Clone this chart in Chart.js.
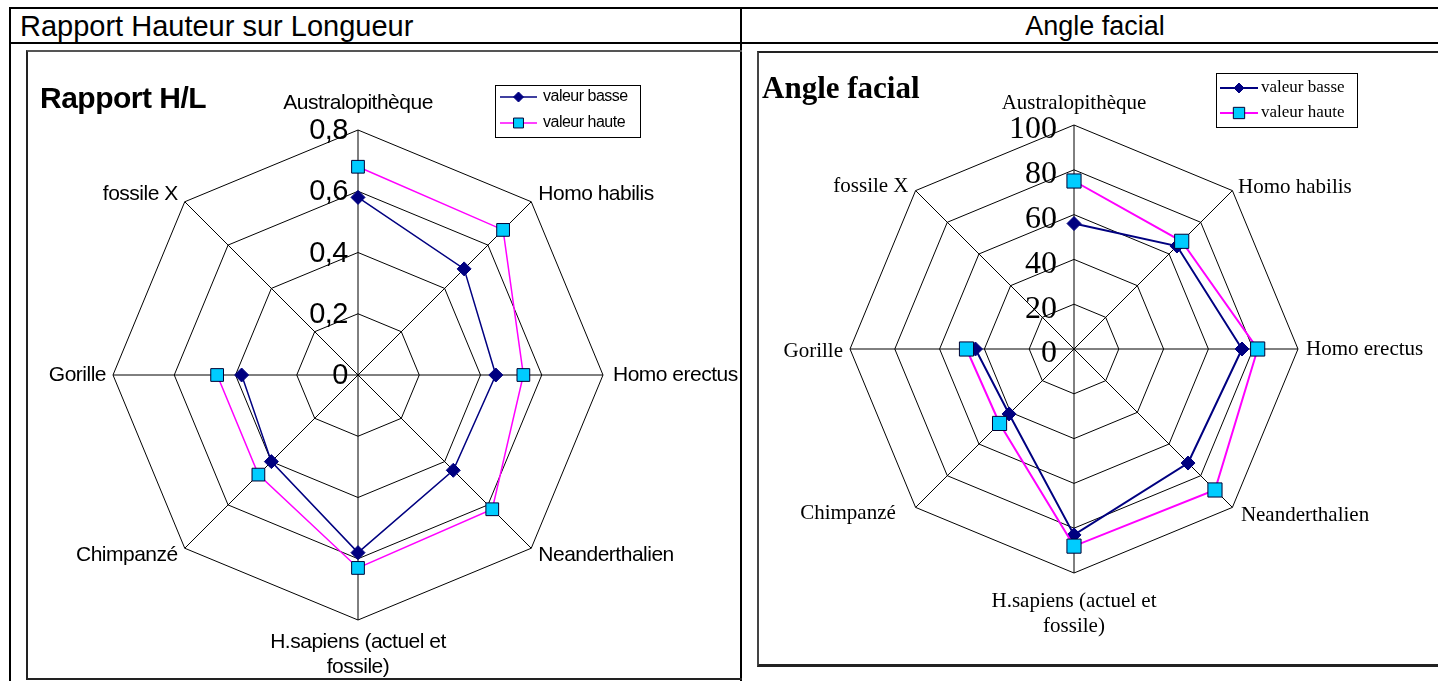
<!DOCTYPE html>
<html>
<head>
<meta charset="utf-8">
<script src="https://cdn.jsdelivr.net/npm/chart.js@4.4.1/dist/chart.umd.min.js"></script>
<style>
  body { margin: 0; width: 1438px; height: 681px; overflow: hidden; background: #fff; position: relative; }
  .rule { position: absolute; background: #000; }
  .head { position: absolute; top: 9px; height: 34px; line-height: 34px; font-family: 'Liberation Sans', Arial, sans-serif; font-size: 27px; color: #000; white-space: nowrap; }
  .frame { position: absolute; box-sizing: border-box; }
  canvas { position: absolute; display: block; }
</style>
</head>
<body>
<!-- table lines -->
<div class="rule" style="left:9px;top:7px;width:1429px;height:2px"></div>
<div class="rule" style="left:9px;top:7px;width:2px;height:674px"></div>
<div class="rule" style="left:9px;top:42px;width:1429px;height:2px"></div>
<div class="rule" style="left:740px;top:7px;width:2px;height:674px"></div>
<div class="head" style="left:20px;font-size:29px">Rapport Hauteur sur Longueur</div>
<div class="head" style="left:742px;width:706px;text-align:center">Angle facial</div>

<!-- chart frames -->
<div class="frame" style="left:26px;top:50px;width:716px;height:630px;border-left:2px solid #222;border-top:2px solid #555;border-bottom:2px solid #222"></div>
<div class="frame" style="left:757px;top:51px;width:700px;height:616px;border-left:2px solid #444;border-top:2px solid #222;border-bottom:3px solid #222"></div>

<canvas id="hlChart" width="711" height="625" style="left:28px;top:52px"></canvas>
<canvas id="angleChart" width="679" height="609" style="left:759px;top:54px"></canvas>

<script>
// Categories (same for both radars)
const species = ['Australopithèque', 'Homo habilis', 'Homo erectus', 'Neanderthalien',
    ['H.sapiens (actuel et', 'fossile)'], 'Chimpanzé', 'Gorille', 'fossile X'];

// Rapport H/L
const hlBasse = [0.58, 0.49, 0.45, 0.44, 0.58, 0.40, 0.38, null];
const hlHaute = [0.68, 0.67, 0.54, 0.62, 0.63, 0.46, 0.46, null];
const hlTicks = ['0', '0,2', '0,4', '0,6', '0,8'];

// Angle facial
const angleBasse = [56, 65, 75, 72, 83, 41, 44, null];
const angleHaute = [75, 68, 82, 89, 88, 47, 48, null];
const angleTicks = ['0', '20', '40', '60', '80', '100'];

const NAVY = '#000080';
const PINK = '#ff00ff';
const CYAN = '#00ccff';

// Styling for each chart (fonts, padding, legend box...)
const hlLook = {
    padding: { left: 85, right: 136, top: 78, bottom: 57 },
    title: 'Rapport H/L', titleFont: "bold 30px 'Liberation Sans', Arial, sans-serif", titleX: 12, titleY: 48,
    tickFont: "29px 'Liberation Sans', Arial, sans-serif", tickGap: 10, tickShift: 1,
    labelFont: "21px 'Liberation Sans', Arial, sans-serif", labelLine: 25,
    labelGap: [27, 10, 10, 10, 22, 10, 7, 10],
    labelNudge: [0, 0, 0, 0, 0, 0, 0, 0],
    legendBox: [467, 33, 145, 52], legendRows: [45, 71], legendLine: [472, 509], legendText: 515,
    legendFont: "16px 'Liberation Sans', Arial, sans-serif",
    spacing: '-0.5px',
    lineWidth: 1.5, diamond: 7, square: 9
};
const angleLook = {
    padding: { left: 91, right: 140, top: 71, bottom: 90 },
    title: 'Angle facial', titleFont: "bold 31px 'Liberation Serif', 'Times New Roman', serif", titleX: 3, titleY: 36,
    tickFont: "32px 'Liberation Serif', 'Times New Roman', serif", tickGap: 17, tickShift: 5,
    labelFont: "21px 'Liberation Serif', 'Times New Roman', serif", labelLine: 25,
    labelGap: [22, 8, 8, 12, 28, 28, 7, 10],
    labelNudge: [0, 3, 0, 0, 0, -14, 2, 3],
    legendBox: [457, 19, 141, 54], legendRows: [34, 59], legendLine: [461, 499], legendText: 502,
    legendFont: "17px 'Liberation Serif', 'Times New Roman', serif",
    spacing: '0px',
    lineWidth: 2, diamond: 7, square: 10
};

// Draws the Excel-like title, tick labels, category labels and legend
function decorPlugin(look) {
    return {
        id: 'decor',
        afterDraw(chart) {
            const ctx = chart.ctx;
            const s = chart.scales.r;
            ctx.save();
            ctx.fillStyle = '#000';
            ctx.letterSpacing = look.spacing;

            // tick labels on the top axis
            ctx.font = look.tickFont;
            ctx.textAlign = 'right';
            ctx.textBaseline = 'middle';
            s.ticks.forEach(function(t) {
                const d = s.getDistanceFromCenterForValue(t.value);
                ctx.fillText(t.label, s.xCenter - look.tickGap, s.yCenter - d + look.tickShift);
            });

            // category labels
            ctx.font = look.labelFont;
            chart.data.labels.forEach(function(label, i) {
                const p = s.getPointPosition(i, s.drawingArea + look.labelGap[i]);
                const deg = Math.round(s.getIndexAngle(i) * 180 / Math.PI) % 360;
                const lines = Array.isArray(label) ? label : [label];
                ctx.textAlign = (deg === 0 || deg === 180) ? 'center' : (deg < 180 ? 'left' : 'right');
                ctx.textBaseline = 'middle';
                lines.forEach(function(line, k) {
                    ctx.fillText(line, p.x, p.y + look.labelNudge[i] + k * look.labelLine);
                });
            });

            // title
            ctx.font = look.titleFont;
            ctx.textAlign = 'left';
            ctx.fillText(look.title, look.titleX, look.titleY);

            // legend
            const b = look.legendBox;
            ctx.lineWidth = 1;
            ctx.strokeStyle = '#000';
            ctx.strokeRect(b[0] + 0.5, b[1] + 0.5, b[2], b[3]);
            ctx.font = look.legendFont;
            chart.data.datasets.forEach(function(ds, i) {
                const y = look.legendRows[i];
                ctx.strokeStyle = ds.borderColor;
                ctx.lineWidth = look.lineWidth;
                ctx.beginPath();
                ctx.moveTo(look.legendLine[0], y);
                ctx.lineTo(look.legendLine[1], y);
                ctx.stroke();
                ctx.fillStyle = ds.pointBackgroundColor;
                ctx.strokeStyle = ds.pointBorderColor;
                ctx.lineWidth = 1;
                Chart.helpers.drawPoint(ctx, {
                    pointStyle: ds.pointStyle,
                    radius: ds.pointRadius - 2,
                    rotation: 0,
                    borderWidth: 1
                }, (look.legendLine[0] + look.legendLine[1]) / 2, y);
                ctx.fillStyle = '#000';
                ctx.textAlign = 'left';
                ctx.fillText(ds.label, look.legendText, y);
            });
            ctx.restore();
        }
    };
}

function makeRadar(id, basse, haute, max, step, tickLabels, look) {
    return new Chart(document.getElementById(id), {
        type: 'radar',
        data: {
            labels: species,
            datasets: [{
                label: 'valeur basse',
                data: basse,
                order: 1,
                borderColor: NAVY,
                borderWidth: look.lineWidth,
                fill: false,
                pointStyle: 'rectRot',
                pointRadius: look.diamond,
                pointBackgroundColor: NAVY,
                pointBorderColor: NAVY,
                pointBorderWidth: 1
            }, {
                label: 'valeur haute',
                data: haute,
                order: 0,
                borderColor: PINK,
                borderWidth: look.lineWidth,
                fill: false,
                pointStyle: 'rect',
                pointRadius: look.square,
                pointBackgroundColor: CYAN,
                pointBorderColor: '#000033',
                pointBorderWidth: 1
            }]
        },
        options: {
            responsive: false,
            animation: false,
            layout: { padding: look.padding },
            elements: { line: { tension: 0 } },
            plugins: {
                legend: { display: false },
                title: { display: false },
                tooltip: { enabled: false }
            },
            scales: {
                r: {
                    min: 0,
                    max: max,
                    ticks: {
                        stepSize: step,
                        display: false,
                        callback: function(v, i) { return tickLabels[i]; }
                    },
                    grid: { color: '#000', lineWidth: 1 },
                    angleLines: { color: '#000', lineWidth: 1 },
                    pointLabels: { display: false }
                }
            }
        },
        plugins: [decorPlugin(look)]
    });
}

makeRadar('hlChart', hlBasse, hlHaute, 0.8, 0.2, hlTicks, hlLook);
makeRadar('angleChart', angleBasse, angleHaute, 100, 20, angleTicks, angleLook);
</script>
</body>
</html>
